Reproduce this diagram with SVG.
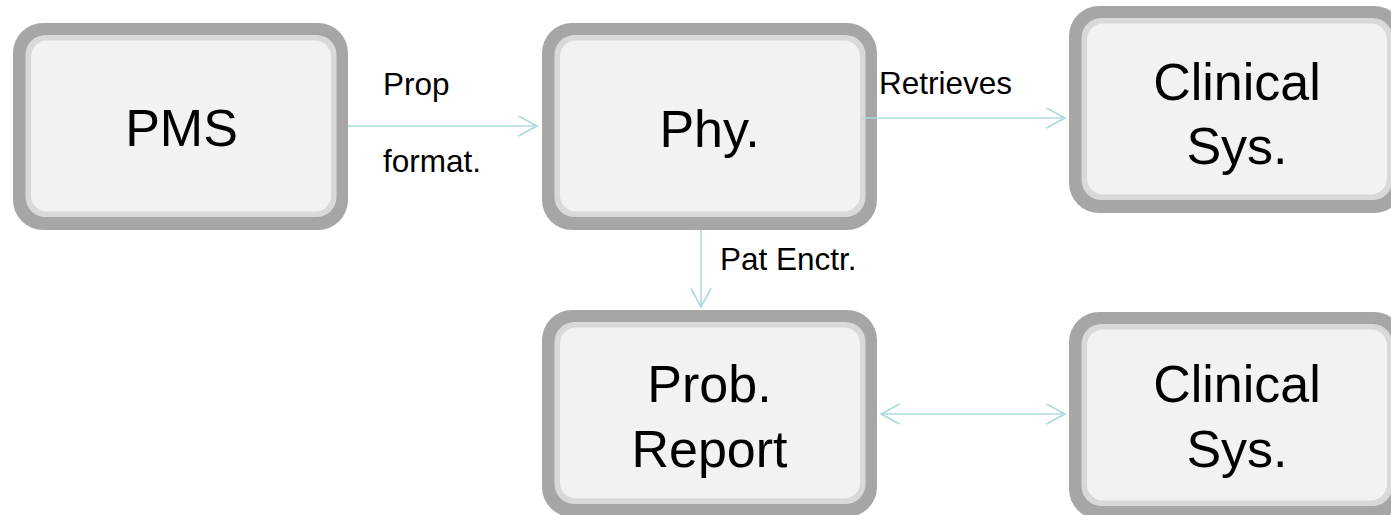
<svg xmlns="http://www.w3.org/2000/svg" width="1391" height="515" viewBox="0 0 1391 515">
  <style>
    .frame { fill: #a6a6a6; }
    .ring { fill: #d9d9d9; }
    .face { fill: #f2f2f2; }
    .title { font-family: "Liberation Sans", Arial, sans-serif; font-size: 52px; fill: #000; text-anchor: middle; }
    .label { font-family: "Liberation Sans", Arial, sans-serif; font-size: 31.5px; fill: #000; }
    .link { fill: none; stroke: #acd9de; stroke-width: 1.6; }
  </style>
  <defs>
    <marker id="chevron" markerUnits="userSpaceOnUse" markerWidth="24" markerHeight="24" viewBox="-20 -12 24 24" refX="0" refY="0" orient="auto-start-reverse">
      <path d="M-18.5,-10 L0,0 L-18.5,10" fill="none" stroke="#acd9de" stroke-width="1.6"/>
    </marker>
  </defs>
  <rect width="1391" height="515" fill="#ffffff"/>

  <g id="node-pms">
    <rect class="frame" x="13" y="23" width="335" height="207" rx="30"/>
    <rect class="ring" x="25.5" y="35" width="311" height="182" rx="20"/>
    <rect class="face" x="31" y="40.5" width="300" height="171" rx="16"/>
    <text class="title" x="181.5" y="146">PMS</text>
  </g>

  <g id="node-phy">
    <rect class="frame" x="542" y="23" width="335" height="207" rx="30"/>
    <rect class="ring" x="554.5" y="35" width="311" height="182" rx="20"/>
    <rect class="face" x="560" y="40.5" width="300" height="171" rx="16"/>
    <text class="title" x="709.5" y="147">Phy.</text>
  </g>

  <g id="node-clinical-top">
    <rect class="frame" x="1069" y="6" width="335" height="207" rx="30"/>
    <rect class="ring" x="1081.5" y="18" width="311" height="182" rx="20"/>
    <rect class="face" x="1087" y="23.5" width="300" height="171" rx="16"/>
    <text class="title" x="1237" y="100">Clinical</text>
    <text class="title" x="1237" y="164">Sys.</text>
  </g>

  <g id="node-prob-report">
    <rect class="frame" x="542" y="310" width="335" height="207" rx="30"/>
    <rect class="ring" x="554.5" y="322" width="311" height="182" rx="20"/>
    <rect class="face" x="560" y="327.5" width="300" height="171" rx="16"/>
    <text class="title" x="709.5" y="402">Prob.</text>
    <text class="title" x="709.5" y="467">Report</text>
  </g>

  <g id="node-clinical-bottom">
    <rect class="frame" x="1069" y="312" width="335" height="207" rx="30"/>
    <rect class="ring" x="1081.5" y="324" width="311" height="182" rx="20"/>
    <rect class="face" x="1087" y="329.5" width="300" height="171" rx="16"/>
    <text class="title" x="1237" y="402">Clinical</text>
    <text class="title" x="1237" y="467">Sys.</text>
  </g>

  <g id="connectors">
    <path class="link" d="M348,126 L537,126" marker-end="url(#chevron)"/>
    <path class="link" d="M862,118 L1065,118" marker-end="url(#chevron)"/>
    <path class="link" d="M701,230 L701,307" marker-end="url(#chevron)"/>
    <path class="link" d="M881,414 L1065,414" marker-start="url(#chevron)" marker-end="url(#chevron)"/>
    <text class="label" x="383" y="95">Prop</text>
    <text class="label" x="383" y="172">format.</text>
    <text class="label" x="879" y="94">Retrieves</text>
    <text class="label" x="720" y="270">Pat Enctr.</text>
  </g>
</svg>
